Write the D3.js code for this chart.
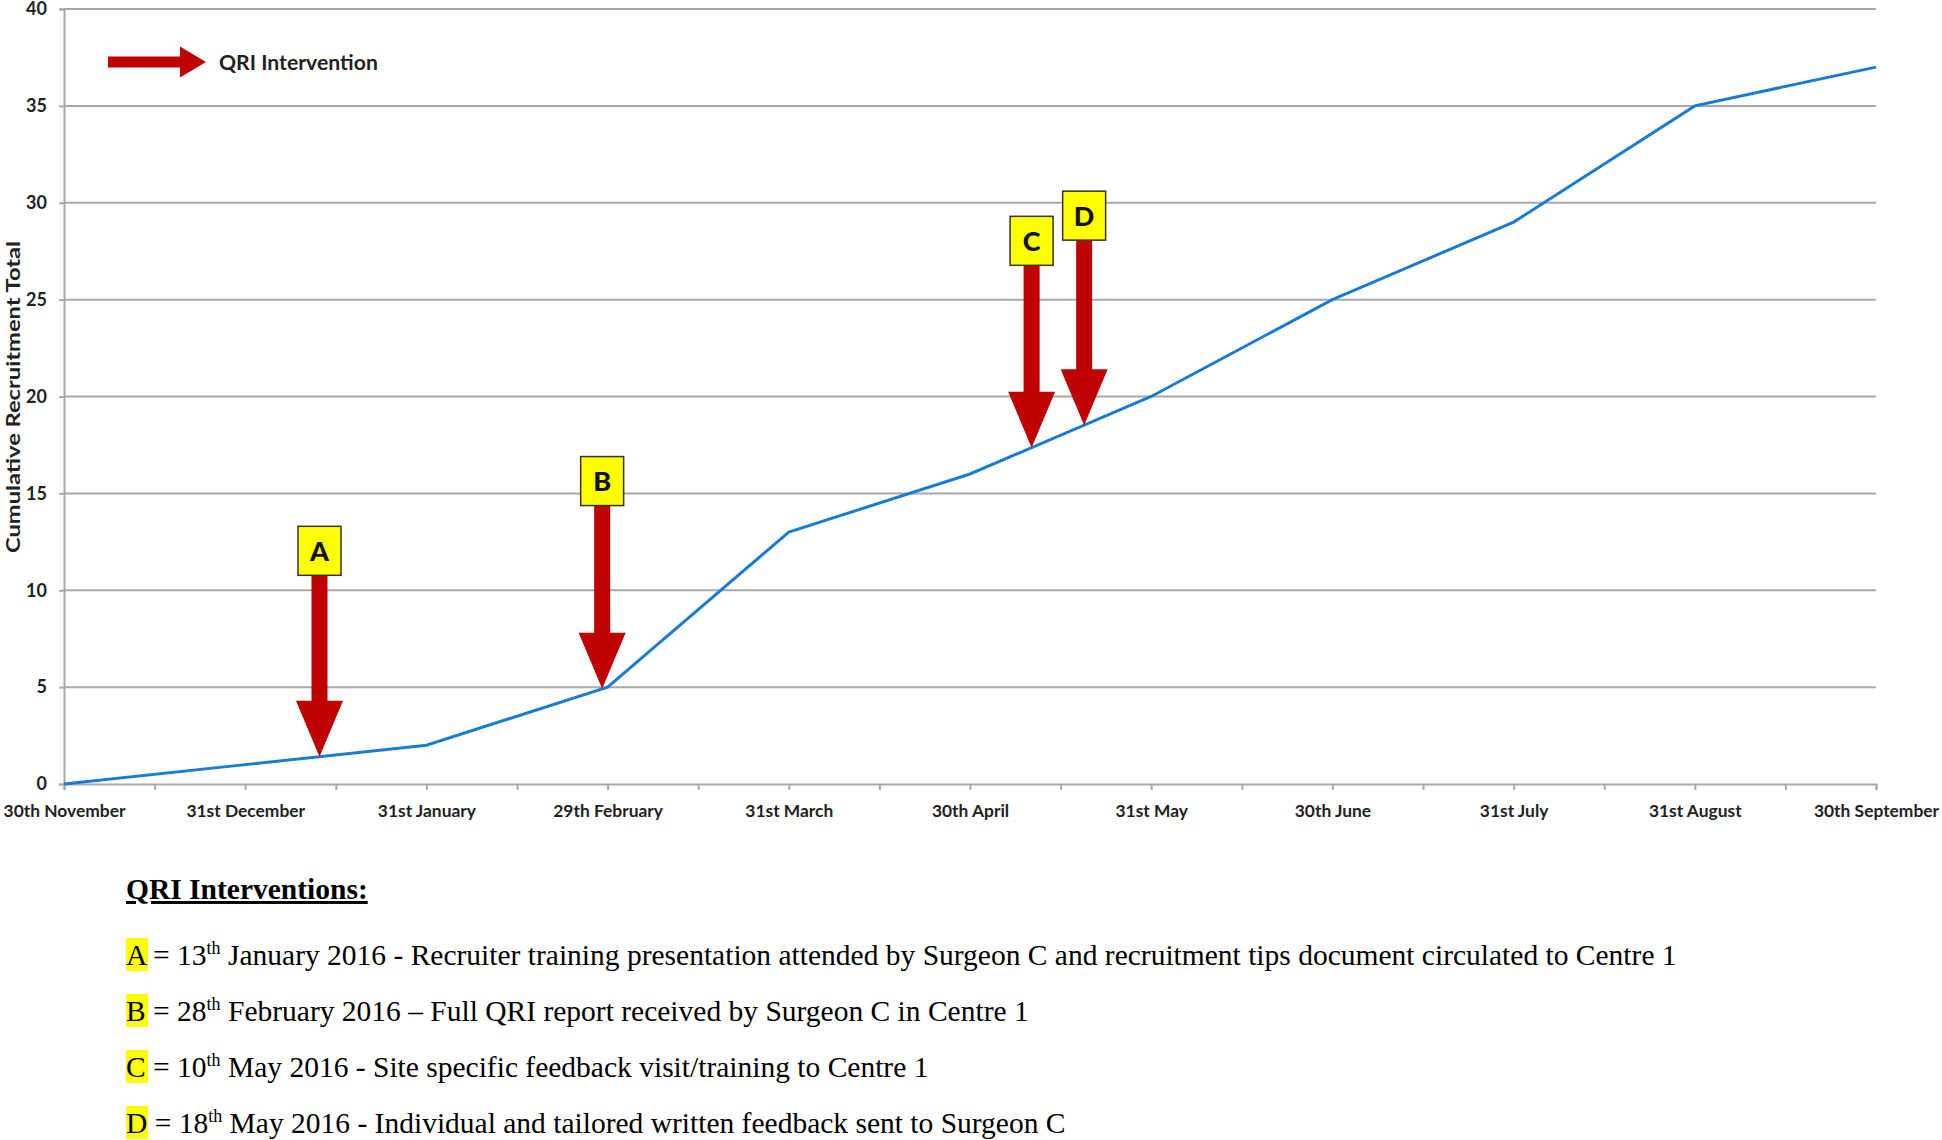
<!DOCTYPE html>
<html>
<head>
<meta charset="utf-8">
<script src="https://cdn.jsdelivr.net/npm/d3@7"></script>
<style>
  body { margin: 0; background: #fff; }
  svg { display: block; }
  .axis text { font-family: Lato, "Open Sans", sans-serif; font-weight: 700; fill: #222; }
  .notes text { font-family: "Liberation Serif", "Times New Roman", serif; fill: #000; }
</style>
</head>
<body>
<div id="chart"></div>
<script>
//////////////////////////////////////////////////////////////////////////////
// Data

var months = ["30th November", "31st December", "31st January", "29th February",
              "31st March", "30th April", "31st May", "30th June", "31st July",
              "31st August", "30th September"];
var recruitment = [0, 1, 2, 5, 13, 16, 20, 25, 29, 35, 37];
var yTicks = [0, 5, 10, 15, 20, 25, 30, 35, 40];

// intervention markers: month index where the arrow lands, box top in y units
var markLetters = ["A", "B", "C", "D"];
var markAt      = [1.41, 2.97, 5.34, 5.63];
var markTop     = [13.3, 16.9, 29.3, 30.6];

// footnote lines
var noteDay  = ["13", "28", "10", "18"];
var noteRest = [
    " January 2016 - Recruiter training presentation attended by Surgeon C and recruitment tips document circulated to Centre 1",
    " February 2016 \u2013 Full QRI report received by Surgeon C in Centre 1",
    " May 2016 - Site specific feedback visit/training to Centre 1",
    " May 2016 - Individual and tailored written feedback sent to Surgeon C"
];

//////////////////////////////////////////////////////////////////////////////
// Global variables, preliminaries

var width = 1942, height = 1140;
var plotLeft = 64, plotRight = 1876, plotTop = 9, plotBottom = 784;
var red = "#c00000", blue = "#1c7cd2", grid = "#a8a8a8";

var xScale = d3.scaleLinear().domain([0, months.length - 1]).range([plotLeft, plotRight]);
var yScale = d3.scaleLinear().domain([0, 40]).range([plotBottom, plotTop]);

var svg = d3.select("#chart")
    .append("svg")
    .attr("width", width)
    .attr("height", height);

//////////////////////////////////////////////////////////////////////////////
// gridlines and axes

svg.append("g")
    .selectAll("line")
    .data(yTicks.slice(1))
    .enter()
    .append("line")
    .attr("x1", plotLeft)
    .attr("x2", plotRight)
    .attr("y1", function(d) { return yScale(d); })
    .attr("y2", function(d) { return yScale(d); })
    .attr("stroke", grid)
    .attr("stroke-width", 2);

var yAxis = svg.append("g")
    .attr("class", "axis")
    .attr("transform", "translate(" + plotLeft + ",0)")
    .call(d3.axisLeft(yScale).tickValues(yTicks).tickSize(5).tickPadding(12));

var halfTicks = d3.range(0, months.length * 2 - 1).map(function(i) { return i / 2; });

var xAxis = svg.append("g")
    .attr("class", "axis")
    .attr("transform", "translate(0," + plotBottom + ")")
    .call(d3.axisBottom(xScale)
        .tickValues(halfTicks)
        .tickSize(6)
        .tickPadding(15)
        .tickFormat(function(d) { return Number.isInteger(d) ? months[d] : ""; }));

[yAxis, xAxis].forEach(function(ax) {
    ax.select(".domain").attr("stroke", grid).attr("stroke-width", 2);
    ax.selectAll(".tick line").attr("stroke", grid).attr("stroke-width", 2);
});
yAxis.selectAll("text").attr("font-size", 18);
xAxis.selectAll("text").attr("font-size", 17.4);

svg.append("text")
    .attr("transform", "translate(20,397) rotate(-90)")
    .attr("text-anchor", "middle")
    .attr("font-family", "Lato, sans-serif")
    .attr("font-weight", 700)
    .attr("font-size", 19)
    .attr("textLength", 312)
    .attr("lengthAdjust", "spacingAndGlyphs")
    .attr("fill", "#222")
    .text("Cumulative Recruitment Total");

//////////////////////////////////////////////////////////////////////////////
// the recruitment line

var line = d3.line()
    .x(function(d, i) { return xScale(i); })
    .y(function(d) { return yScale(d); });

svg.append("path")
    .datum(recruitment)
    .attr("d", line)
    .attr("fill", "none")
    .attr("stroke", blue)
    .attr("stroke-width", 3);

//////////////////////////////////////////////////////////////////////////////
// intervention arrows

function valueAt(t) {
    var i = Math.min(Math.floor(t), recruitment.length - 2);
    return d3.interpolateNumber(recruitment[i], recruitment[i + 1])(t - i);
}

function downArrow(x, y0, y1) {
    var shaft = 8, head = 23.5, headH = 56;
    return "M" + (x - shaft) + "," + y0 +
        " L" + (x + shaft) + "," + y0 +
        " L" + (x + shaft) + "," + (y1 - headH) +
        " L" + (x + head) + "," + (y1 - headH) +
        " L" + x + "," + y1 +
        " L" + (x - head) + "," + (y1 - headH) +
        " L" + (x - shaft) + "," + (y1 - headH) + " Z";
}

var boxW = 43, boxH = 49;

var marks = svg.append("g")
    .selectAll("g")
    .data(markLetters)
    .enter()
    .append("g");

marks.append("path")
    .attr("d", function(d, i) {
        var x = xScale(markAt[i]);
        return downArrow(x, yScale(markTop[i]) + boxH - 1, yScale(valueAt(markAt[i])));
    })
    .attr("fill", red);

marks.append("rect")
    .attr("x", function(d, i) { return xScale(markAt[i]) - boxW / 2; })
    .attr("y", function(d, i) { return yScale(markTop[i]); })
    .attr("width", boxW)
    .attr("height", boxH)
    .attr("fill", "#ffff00")
    .attr("stroke", "#333")
    .attr("stroke-width", 1.5);

marks.append("text")
    .attr("x", function(d, i) { return xScale(markAt[i]); })
    .attr("y", function(d, i) { return yScale(markTop[i]) + boxH / 2 + 10; })
    .attr("text-anchor", "middle")
    .attr("font-family", "Lato, sans-serif")
    .attr("font-weight", 900)
    .attr("font-size", 27)
    .attr("fill", "#111")
    .text(function(d) { return d; });

// legend
var legend = svg.append("g").attr("transform", "translate(108,62)");
legend.append("path")
    .attr("d", "M0,-5.5 L72,-5.5 L72,-15.5 L98,0 L72,15.5 L72,5.5 L0,5.5 Z")
    .attr("fill", red);
legend.append("text")
    .attr("x", 111)
    .attr("y", 8)
    .attr("font-family", "Lato, sans-serif")
    .attr("font-weight", 700)
    .attr("font-size", 21.2)
    .attr("fill", "#222")
    .text("QRI Intervention");

//////////////////////////////////////////////////////////////////////////////
// footnotes

var notes = svg.append("g").attr("class", "notes");

notes.append("text")
    .attr("x", 126)
    .attr("y", 899)
    .attr("font-size", 29.5)
    .attr("font-weight", 700)
    .attr("text-decoration", "underline")
    .text("QRI Interventions:");

var rows = notes.selectAll("g.row")
    .data(markLetters)
    .enter()
    .append("g")
    .attr("class", "row")
    .attr("transform", function(d, i) { return "translate(126," + (965 + i * 56) + ")"; });

rows.append("rect")
    .attr("x", 0)
    .attr("y", -27)
    .attr("width", 22)
    .attr("height", 33)
    .attr("fill", "#ffff00");

var lineText = rows.append("text")
    .attr("font-size", 29.5);

lineText.append("tspan")
    .text(function(d, i) { return d + " = " + noteDay[i]; });
lineText.append("tspan")
    .attr("font-size", 18)
    .attr("dy", -11)
    .text("th");
lineText.append("tspan")
    .attr("dy", 11)
    .text(function(d, i) { return noteRest[i]; });
</script>
</body>
</html>
